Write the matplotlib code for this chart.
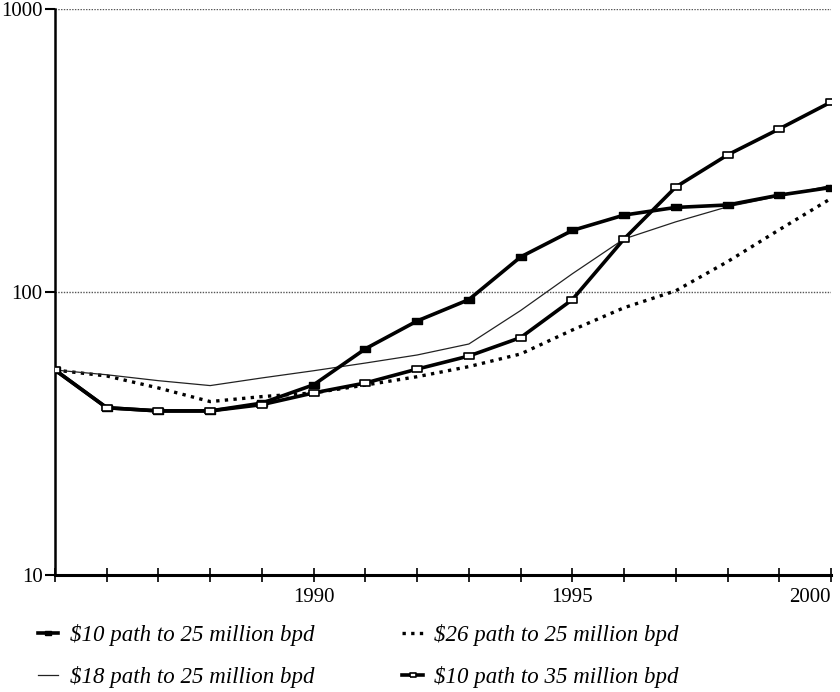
import matplotlib
matplotlib.use('Agg')
import matplotlib.pyplot as plt
from matplotlib.ticker import FixedLocator, NullFormatter, NullLocator

# --- datos ---
anios = [1985, 1986, 1987, 1988, 1989, 1990, 1991, 1992, 1993, 1994,
         1995, 1996, 1997, 1998, 1999, 2000]

p10_25 = [53, 39, 38, 38, 40.5, 47, 63, 79, 94, 133, 165, 187, 199, 203, 220, 234]
p26_25 = [53, 50.5, 45.8, 41, 42.7, 44, 46.9, 50.2, 54.5, 60.4, 73.4, 88, 101, 128, 166, 214]
p18_25 = [53, 51, 48.6, 46.7, 49.7, 52.7, 56.1, 59.9, 65.5, 86, 116, 154, 177, 200, 218, 238]
p10_35 = [53, 39, 38, 38, 40, 44, 47.7, 53.4, 59.4, 69, 94, 154, 235, 305, 377, 469]

etiquetas = ['$10 path to 25 million bpd', '$26 path to 25 million bpd',
             '$18 path to 25 million bpd', '$10 path to 35 million bpd']

fuente = 'Liberation Serif'
rect = [(-1.6, -1), (1.6, -1), (1.6, 1), (-1.6, 1), (-1.6, -1)]

fig = plt.figure(figsize=(8.4, 6.92), dpi=100)
ax = fig.add_axes([55 / 840, 1 - 575 / 692, (831 - 55) / 840, (575 - 9) / 692])

ax.set_yscale('log')
ax.set_ylim(10, 1000)
ax.set_xlim(1985, 2000)

# rejilla horizontal en 100 y 1000
for yv in [100, 1000]:
    ax.axhline(yv, color='#555555', linestyle=(0, (1, 1)), linewidth=1.0, zorder=1)

l1, = ax.plot(anios, p10_25, color='black', linewidth=2.6, marker=rect,
              markersize=7, markerfacecolor='black', markeredgecolor='black', zorder=4)
l2, = ax.plot(anios, p26_25, color='black', linewidth=2.4, linestyle=(0, (1, 1.6)),
              zorder=3)
l3, = ax.plot(anios, p18_25, color='#222222', linewidth=0.9, zorder=3)
l4, = ax.plot(anios, p10_35, color='black', linewidth=2.6, marker=rect,
              markersize=7, markerfacecolor='white', markeredgecolor='black',
              markeredgewidth=1.2, zorder=5)

# ejes
ax.spines['top'].set_visible(False)
ax.spines['right'].set_visible(False)
ax.spines['left'].set_linewidth(1.8)
ax.spines['bottom'].set_linewidth(2.2)

ax.yaxis.set_major_locator(FixedLocator([10, 100, 1000]))
ax.yaxis.set_minor_locator(NullLocator())
ax.set_yticklabels(['10', '100', '1000'])
ax.tick_params(axis='y', which='major', direction='out', length=7, width=1.5,
               labelsize=15, pad=2)

ax.xaxis.set_major_locator(FixedLocator([1990, 1995, 2000]))
ax.xaxis.set_minor_locator(FixedLocator(anios))
ax.xaxis.set_minor_formatter(NullFormatter())
ax.set_xticklabels(['1990', '1995', '2000'])
ax.tick_params(axis='x', which='both', direction='inout', length=10, width=1.2,
               labelsize=15, pad=4)

for t in ax.get_xticklabels() + ax.get_yticklabels():
    t.set_fontfamily(fuente)
ax.get_xticklabels()[-1].set_horizontalalignment('right')

# leyenda abajo, dos columnas
ley = fig.legend([l1, l3, l2, l4], [etiquetas[0], etiquetas[2], etiquetas[1], etiquetas[3]],
                 ncol=2, loc='upper left', bbox_to_anchor=(0.0205, 0.1275),
                 frameon=False, handlelength=0.9, handletextpad=0.5,
                 columnspacing=3.83, labelspacing=0.84, markerscale=0.6,
                 prop={'family': fuente, 'style': 'italic', 'size': 16.5})

fig.savefig('out.png', dpi=100)
